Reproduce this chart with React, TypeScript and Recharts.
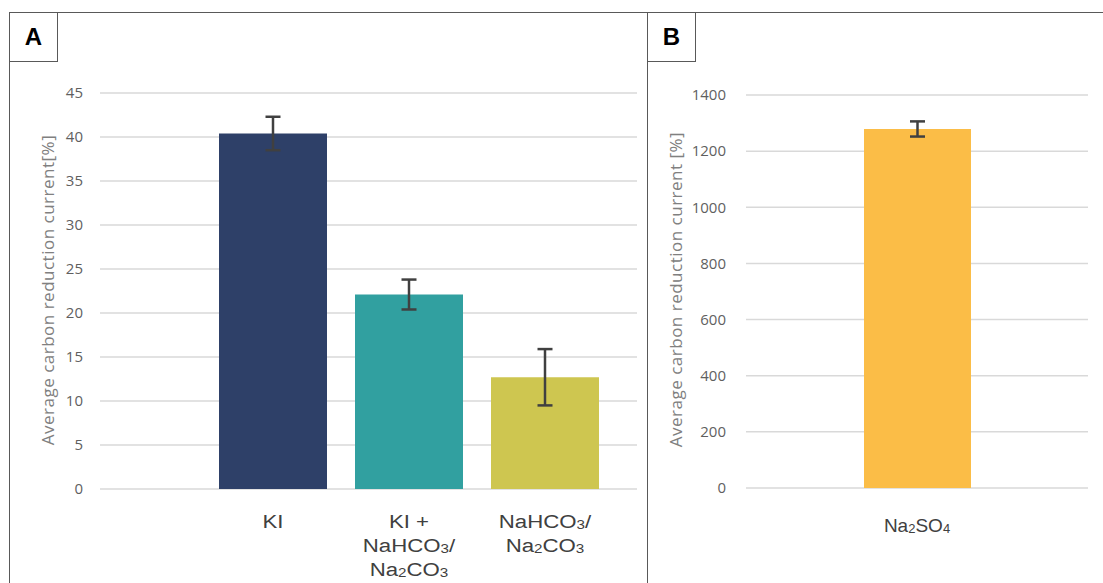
import React from 'react';
import { BarChart, Bar, XAxis, YAxis, CartesianGrid, ErrorBar, Cell } from 'recharts';

// panel A
const categoriesA = ['KI', 'KI + |NaHCO3/|Na2CO3', 'NaHCO3/|Na2CO3'];
const valuesA = [40.4, 22.1, 12.7];
const errorsA = [1.9, 1.7, 3.2];
const colorsA = ['#2E4068', '#31A0A0', '#CEC650'];
const ticksA = [0, 5, 10, 15, 20, 25, 30, 35, 40, 45];

// panel B
const categoriesB = ['Na2SO4'];
const valuesB = [1279];
const errorsB = [27];
const colorsB = ['#FBBD47'];
const ticksB = [0, 200, 400, 600, 800, 1000, 1200, 1400];

const dataA = categoriesA.map((name, i) => ({ name, value: valuesA[i], err: errorsA[i] }));
const dataB = categoriesB.map((name, i) => ({ name, value: valuesB[i], err: errorsB[i] }));

const gridColor = '#D9D9D9';
const tickStyle = { fontFamily: 'Open Sans, sans-serif', fontSize: 15, fill: '#5F5F5F' };
const labelStyle = {
 fontFamily: 'Open Sans, sans-serif',
 fontSize: 17,
 letterSpacing: 0.5,
 fill: '#808080',
 textAnchor: 'middle' as const,
};

// renders a line like "Na2CO3" with the digits as subscripts
const chemLine = (line: string) =>
 line.split(/(\d+)/).filter((s) => s !== '').map((part, i) =>
 /^\d+$/.test(part) ? (
 <tspan key={i} fontSize={13} dy={1}>{part}</tspan>
 ) : (
 <tspan key={i} dy={i === 0 ? 0 : -1}>{part}</tspan>
 )
 );

const ChemTick = ({ x, y, payload, first = 28, stretch = 1 }: any) => {
 const lines = String(payload.value).split('|');
 return (
 <g transform={`translate(${x},${y}) scale(${stretch},1)`}>
 {lines.map((l, i) => (
 <text
 key={i}
 x={0}
 y={first + i * 24}
 textAnchor="middle"
 fontFamily="Liberation Sans, Arial, sans-serif"
 fontSize={19}
 fill="#404040"
 >
 {chemLine(l)}
 </text>
 ))}
 </g>
 );
};

const boxStyle: React.CSSProperties = {
 position: 'absolute',
 width: 49,
 height: 49,
 border: '1.5px solid #595959',
 borderTop: 'none',
 background: '#fff',
 display: 'flex',
 alignItems: 'center',
 justifyContent: 'center',
 fontFamily: 'Liberation Sans, Arial, sans-serif',
 fontWeight: 'bold',
 fontSize: 24,
 color: '#000',
 boxSizing: 'border-box',
};

export default function App() {
 return (
 <div style={{ position: 'absolute', left: 0, top: 0, width: 1103, height: 583, background: '#fff', overflow: 'hidden' }}>
 {/* frame */}
 <div style={{ position: 'absolute', left: 9, top: 12, width: 1094, height: 0, borderTop: '1.5px solid #595959' }} />
 <div style={{ position: 'absolute', left: 9, top: 12, width: 0, height: 571, borderLeft: '1.5px solid #595959' }} />
 <div style={{ position: 'absolute', left: 647, top: 12, width: 0, height: 571, borderLeft: '1.5px solid #595959' }} />

 <div style={{ position: 'absolute', left: 0, top: 0 }}>
 <BarChart width={647} height={583} data={dataA} margin={{ top: 93, right: 10, bottom: 34, left: 40 }}>
 <CartesianGrid vertical={false} stroke={gridColor} strokeWidth={1.5} />
 <XAxis
 dataKey="name"
 axisLine={false}
 tickLine={false}
 height={60}
 interval={0}
 padding={{ left: 105, right: 24 }}
 tick={<ChemTick first={31} stretch={1.17} />}
 />
 <YAxis
 width={60}
 domain={[0, 45]}
 ticks={ticksA}
 axisLine={false}
 tickLine={false}
 tickSize={0}
 tickMargin={17}
 fontSize={15}
 fontFamily="Open Sans, sans-serif"
 tick={tickStyle}
 label={{
 value: 'Average carbon reduction current[%]',
 angle: -90,
 position: 'insideLeft',
 dx: 3,
 dy: -1,
 style: labelStyle,
 }}
 />
 <Bar dataKey="value" barSize={108} isAnimationActive={false}>
 {dataA.map((d, i) => (
 <Cell key={d.name} fill={colorsA[i]} />
 ))}
 <ErrorBar dataKey="err" width={7.5} stroke="#404040" strokeWidth={2.5} />
 </Bar>
 </BarChart>
 </div>

 <div style={{ position: 'absolute', left: 647, top: 0 }}>
 <BarChart width={456} height={583} data={dataB} margin={{ top: 95, right: 15, bottom: 35, left: 39 }}>
 <CartesianGrid vertical={false} stroke={gridColor} strokeWidth={1.5} />
 <XAxis
 dataKey="name"
 axisLine={false}
 tickLine={false}
 height={60}
 interval={0}
 tick={<ChemTick first={36} />}
 />
 <YAxis
 width={60}
 domain={[0, 1400]}
 ticks={ticksB}
 axisLine={false}
 tickLine={false}
 tickSize={0}
 tickMargin={20}
 fontSize={15}
 fontFamily="Open Sans, sans-serif"
 tick={tickStyle}
 label={{
 value: 'Average carbon reduction current [%]',
 angle: -90,
 position: 'insideLeft',
 dx: -15,
 dy: -2,
 style: labelStyle,
 }}
 />
 <Bar dataKey="value" barSize={107} isAnimationActive={false}>
 {dataB.map((d, i) => (
 <Cell key={d.name} fill={colorsB[i]} />
 ))}
 <ErrorBar dataKey="err" width={7.5} stroke="#404040" strokeWidth={2.5} />
 </Bar>
 </BarChart>
 </div>

 <div style={{ ...boxStyle, left: 9, top: 13 }}>A</div>
 <div style={{ ...boxStyle, left: 647, top: 13 }}>B</div>
 </div>
 );
}
